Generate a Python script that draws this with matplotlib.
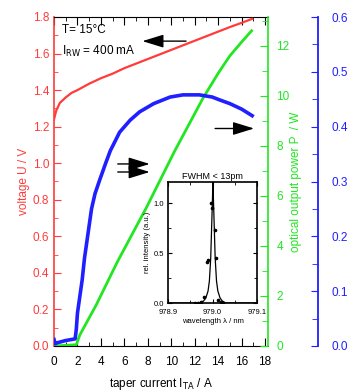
import matplotlib
matplotlib.use("Agg")
import matplotlib.pyplot as plt
from matplotlib.ticker import MultipleLocator, FixedLocator

plt.rcParams['font.family'] = ['Liberation Sans', 'DejaVu Sans']

RED = '#ff3b3b'
GREEN = '#22e622'
BLUE = '#1f1fff'

# ---- data ----
I_volt = [0, 0.2, 0.5, 1.0, 1.5, 2, 3, 4, 5, 6, 7, 8, 9, 10, 11, 12, 13, 14, 15, 16, 16.9]
U_volt = [1.24, 1.29, 1.33, 1.36, 1.385, 1.40, 1.435, 1.465, 1.49, 1.52, 1.545, 1.57,
          1.595, 1.62, 1.645, 1.67, 1.695, 1.72, 1.745, 1.768, 1.79]

I_pow = [0, 1.9, 2.2, 3.6, 5.4, 7.5, 7.9, 10.3, 12.7, 14.0, 15.0, 16.0, 16.85]
P_pow = [0, 0.05, 0.44, 1.64, 3.36, 5.2, 5.55, 7.8, 9.9, 10.9, 11.6, 12.15, 12.6]

I_eff = [0, 0.1, 0.3, 1.0, 1.8, 1.9, 2.0, 2.2, 2.4, 2.6, 2.9, 3.2, 3.5, 3.9, 4.4, 4.8,
         5.6, 6.5, 7.3, 8.5, 9.9, 11.0, 12.4, 13.5, 14.1, 15.0, 16.0, 16.9]
E_eff = [0.012, 0.004, 0.006, 0.010, 0.013, 0.03, 0.06, 0.09, 0.12, 0.16, 0.205, 0.25,
         0.278, 0.303, 0.333, 0.356, 0.39, 0.412, 0.427, 0.442, 0.454, 0.458, 0.458,
         0.454, 0.449, 0.442, 0.432, 0.42]

wl_fit = [978.90, 978.97, 978.98, 978.985, 978.99, 978.993, 978.996, 978.998, 979.000,
          979.001, 979.002, 979.004, 979.006, 979.009, 979.012, 979.017, 979.022, 979.03, 979.10]
int_fit = [0.0, 0.0, 0.02, 0.05, 0.12, 0.22, 0.45, 0.75, 1.05, 1.25, 1.05, 0.75, 0.45,
           0.22, 0.12, 0.05, 0.02, 0.0, 0.0]
wl_pts = [978.961, 978.967, 978.975, 978.981, 978.987, 978.99, 978.997, 978.998, 979.006,
          979.008, 979.012, 979.018, 979.024]
int_pts = [0.0, 0.0, 0.01, 0.06, 0.41, 0.43, 1.0, 0.95, 0.73, 0.45, 0.03, 0.01, 0.0]

fig = plt.figure(figsize=(3.55, 3.91), dpi=100)
ax = fig.add_axes([54/355, 1-346/391, 214/355, 329/391])
ax2 = ax.twinx()
ax3 = ax.twinx()

ax.plot(I_volt, U_volt, color=RED, lw=1.6, zorder=3)
ax2.plot(I_pow, P_pow, color=GREEN, lw=2.0)
ax3.plot(I_eff, E_eff, color=BLUE, lw=2.6)

ax.set_xlim(0, 18.25)
ax.set_ylim(0, 1.8)
ax2.set_ylim(0, 13.15)
ax3.set_ylim(0, 0.6)

# spines
ax.spines['left'].set_color(RED)
ax.spines['right'].set_visible(False)
for s in ['left', 'top', 'bottom']:
    ax2.spines[s].set_visible(False)
ax2.spines['right'].set_color(GREEN)
for s in ['left', 'top', 'bottom']:
    ax3.spines[s].set_visible(False)
ax3.spines['right'].set_position(('axes', 1.234))
ax3.spines['right'].set_color(BLUE)
ax3.spines['right'].set_linewidth(1.3)
ax2.spines['right'].set_linewidth(1.2)
ax.spines['left'].set_linewidth(1.2)

# ticks
ax.xaxis.set_major_locator(MultipleLocator(2))
ax.xaxis.set_minor_locator(MultipleLocator(1))
ax.yaxis.set_major_locator(MultipleLocator(0.2))
ax.yaxis.set_minor_locator(MultipleLocator(0.1))
ax.tick_params(axis='x', which='both', direction='in', top=True, labelsize=8.5, pad=7)
ax.tick_params(axis='x', which='major', length=6)
ax.tick_params(axis='x', which='minor', length=3)
ax.tick_params(axis='y', which='both', direction='in', colors=RED, labelsize=8.5)
ax.tick_params(axis='y', which='major', length=5)
ax.tick_params(axis='y', which='minor', length=3)
ax.set_yticks([0, 0.2, 0.4, 0.6, 0.8, 1.0, 1.2, 1.4, 1.6, 1.8])
ax.set_yticklabels(["0.0", "0.2", "0.4", "0.6", "0.8", "1.0", "1.2", "1.4", "1.6", "1.8"])

ax2.yaxis.set_major_locator(MultipleLocator(2))
ax2.yaxis.set_minor_locator(MultipleLocator(1))
ax2.tick_params(axis='y', which='both', direction='in', colors=GREEN, labelsize=8.5, pad=6)
ax2.tick_params(axis='y', which='major', length=6)
ax2.tick_params(axis='y', which='minor', length=4)

ax3.yaxis.set_major_locator(MultipleLocator(0.1))
ax3.yaxis.set_minor_locator(MultipleLocator(0.05))
ax3.tick_params(axis='y', which='both', direction='in', colors=BLUE, labelsize=8.5, pad=10)
ax3.tick_params(axis='y', which='major', length=5)
ax3.tick_params(axis='y', which='minor', length=4)
ax3.set_yticks([0, 0.1, 0.2, 0.3, 0.4, 0.5, 0.6])
ax3.set_yticklabels(["0.0", "0.1", "0.2", "0.3", "0.4", "0.5", "0.6"])

ax.set_xlabel(r"taper current I$_{\rm TA}$ / A", fontsize=8.5, labelpad=6)
ax.set_ylabel("voltage U / V", color=RED, fontsize=8.5, labelpad=2)
ax2.set_ylabel("optical output power P  / W", color=GREEN, fontsize=8.5, labelpad=0)

ax.text(0.7, 1.715, "T= 15°C", fontsize=8.5)
ax.text(0.7, 1.595, r"I$_{\rm RW}$ = 400 mA", fontsize=8.5)

arrow_kw = dict(arrowstyle='-|>,head_length=1.3,head_width=0.4', color='black', lw=1.0)
ax.annotate("", xy=(7.3, 1.668), xytext=(11.5, 1.668), arrowprops=arrow_kw)
ax.annotate("", xy=(17.3, 1.19), xytext=(13.5, 1.19), arrowprops=arrow_kw)
ax.annotate("", xy=(8.4, 0.996), xytext=(5.2, 0.996), arrowprops=arrow_kw)
ax.annotate("", xy=(8.4, 0.952), xytext=(5.2, 0.952), arrowprops=arrow_kw)

# inset
ins = fig.add_axes([168/355, 1-303/391, 89/355, 121/391])
ins.plot(wl_fit, int_fit, color='black', lw=0.9)
ins.plot(wl_pts, int_pts, 'o', color='black', ms=1.6)
ins.set_xlim(978.9, 979.1)
ins.set_ylim(0, 1.21)
ins.xaxis.set_major_locator(FixedLocator([978.9, 979.0, 979.1]))
ins.xaxis.set_minor_locator(FixedLocator([978.95, 979.05]))
ins.set_xticklabels(["978.9", "979.0", "979.1"])
ins.yaxis.set_major_locator(FixedLocator([0.0, 0.5, 1.0]))
ins.yaxis.set_minor_locator(FixedLocator([0.25, 0.75]))
ins.set_yticklabels(["0.0", "0.5", "1.0"])
ins.tick_params(which='both', direction='in', top=True, right=True, labelsize=5.5)
ins.tick_params(axis='x', pad=4)
ins.tick_params(axis='y', pad=3)
ins.tick_params(which='major', length=3)
ins.tick_params(which='minor', length=2)
for s in ins.spines.values():
    s.set_linewidth(1.2)
ins.set_xlabel("wavelength λ / nm", fontsize=5.5, labelpad=2)
ins.set_ylabel("rel. intensity (a.u.)", fontsize=5.5, labelpad=2)
ins.set_title("FWHM < 13pm", fontsize=6.5, pad=2)

fig.savefig("out.png", dpi=100)
